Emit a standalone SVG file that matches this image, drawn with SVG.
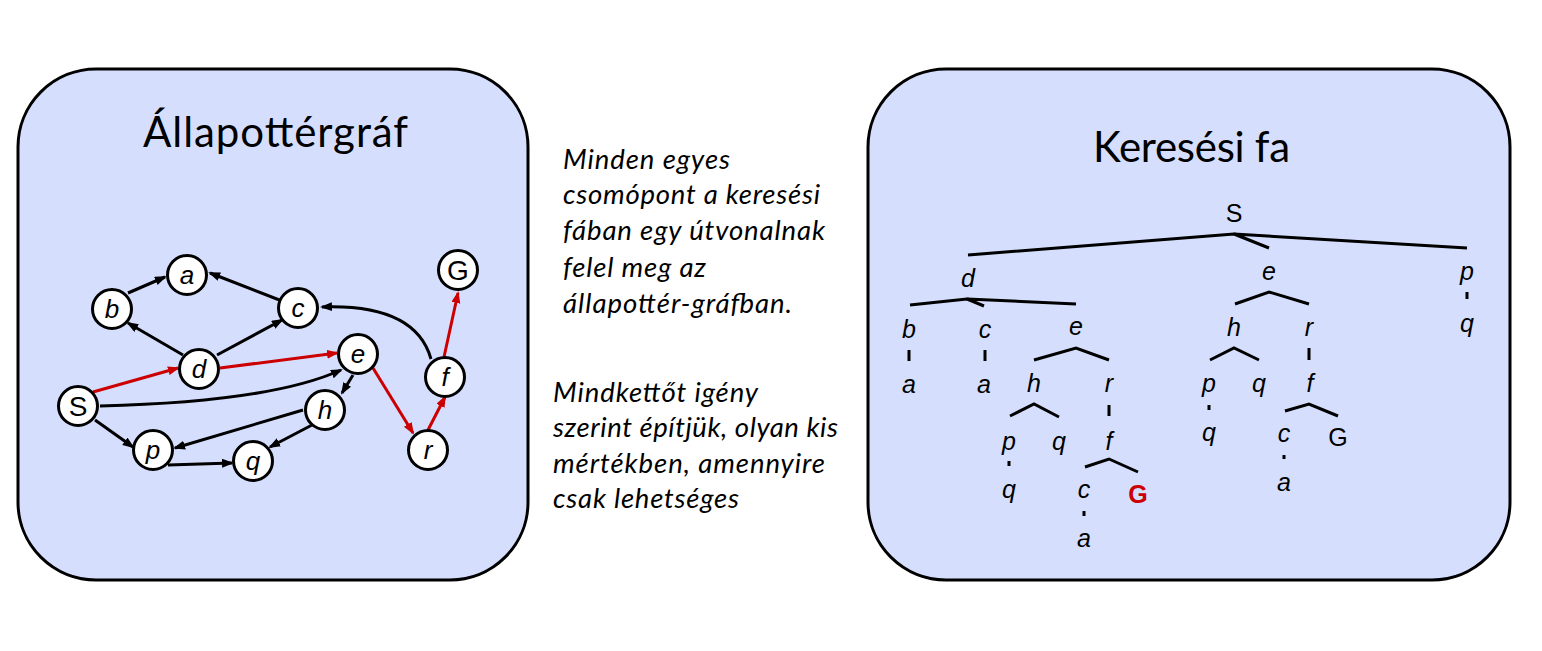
<svg xmlns="http://www.w3.org/2000/svg" width="1542" height="651" viewBox="0 0 1542 651">
<style>
.panel{fill:#d5dffd;stroke:#000;stroke-width:3}
.title{font-family:Lato,"Open Sans",sans-serif;font-size:42px;fill:#000}
.note{font-family:Lato,"Open Sans",sans-serif;font-style:italic;font-size:27.5px;fill:#000}
.node circle{fill:#fff;stroke:#000;stroke-width:3}
.nl{font-family:"Liberation Sans",Arial,sans-serif;font-size:26px;font-style:italic;text-anchor:middle;fill:#000}
.nu{font-family:"Liberation Sans",Arial,sans-serif;font-size:28px;text-anchor:middle;fill:#000}
.e{fill:none;stroke:#000;stroke-width:3}
.er{fill:none;stroke:#cc0000;stroke-width:3}
.tl{fill:none;stroke:#000;stroke-width:3}
.tt{font-family:"Liberation Sans",Arial,sans-serif;font-size:25px;font-style:italic;text-anchor:middle;fill:#000}
.tu{font-family:"Liberation Sans",Arial,sans-serif;font-size:25px;text-anchor:middle;fill:#000}
.tg{font-family:"Liberation Sans",Arial,sans-serif;font-size:25px;font-weight:bold;text-anchor:middle;fill:#cc0000}
</style>
<defs>
<marker id="ab" markerUnits="userSpaceOnUse" markerWidth="12" markerHeight="10" refX="10" refY="4.5" orient="auto"><path d="M0,0 L12,4.5 L0,9 z" fill="#000"/></marker>
<marker id="ar" markerUnits="userSpaceOnUse" markerWidth="12" markerHeight="10" refX="10" refY="4.5" orient="auto"><path d="M0,0 L12,4.5 L0,9 z" fill="#cc0000"/></marker>
</defs>

<g id="panel-left">
<rect class="panel" x="18" y="69" width="510" height="511" rx="78" ry="78"/>
<text class="title" x="143" y="147" textLength="265">Állapottérgráf</text>
</g>
<g id="panel-right">
<rect class="panel" x="868" y="69" width="642" height="511" rx="78" ry="78"/>
<text class="title" x="1093" y="162" textLength="197">Keresési fa</text>
</g>

<g id="notes">
<text class="note" x="563" y="169" textLength="167">Minden egyes</text>
<text class="note" x="563" y="204" textLength="257">csomópont a keresési</text>
<text class="note" x="563" y="240" textLength="262">fában egy útvonalnak</text>
<text class="note" x="563" y="277" textLength="143">felel meg az</text>
<text class="note" x="563" y="313" textLength="229">állapottér-gráfban.</text>
<text class="note" x="553" y="402" textLength="205">Mindkettőt igény</text>
<text class="note" x="553" y="437" textLength="285">szerint építjük, olyan kis</text>
<text class="note" x="553" y="473" textLength="272">mértékben, amennyire</text>
<text class="note" x="553" y="508" textLength="186">csak lehetséges</text>
</g>

<g id="connectors">
<path class="e" d="M128,293 L165,277" marker-end="url(#ab)"/>
<path class="e" d="M282,301 L210,273" marker-end="url(#ab)"/>
<path class="e" d="M183,355 L128,323" marker-end="url(#ab)"/>
<path class="e" d="M217,355 L282,320" marker-end="url(#ab)"/>
<path class="er" d="M93,392 L178,368" marker-end="url(#ar)"/>
<path class="er" d="M220,368 L337,353" marker-end="url(#ar)"/>
<path class="e" d="M100,406 Q270,402 341,370" marker-end="url(#ab)"/>
<path class="e" d="M353,375 L342,393" marker-end="url(#ab)"/>
<path class="e" d="M303,410 L175,448" marker-end="url(#ab)"/>
<path class="e" d="M312,425 L270,447" marker-end="url(#ab)"/>
<path class="e" d="M95,420 L133,447" marker-end="url(#ab)"/>
<path class="e" d="M168,465 L232,463" marker-end="url(#ab)"/>
<path class="er" d="M373,368 L413,433" marker-end="url(#ar)"/>
<path class="er" d="M428,430 L445,397" marker-end="url(#ar)"/>
<path class="er" d="M444,357 L458,293" marker-end="url(#ar)"/>
<path class="e" d="M431,359 C420,320 380,305 322,307" marker-end="url(#ab)"/>
</g>

<g id="node-a" class="node"><circle cx="187" cy="275" r="19.5"/><text class="nl" x="187" y="284">a</text></g>
<g id="node-b" class="node"><circle cx="112" cy="309" r="19.5"/><text class="nl" x="112" y="318">b</text></g>
<g id="node-c" class="node"><circle cx="298" cy="308" r="19.5"/><text class="nl" x="298" y="317">c</text></g>
<g id="node-G" class="node"><circle cx="458" cy="270" r="19.5"/><text class="nu" x="458" y="280">G</text></g>
<g id="node-d" class="node"><circle cx="199" cy="369" r="19.5"/><text class="nl" x="199" y="378">d</text></g>
<g id="node-e" class="node"><circle cx="358" cy="354" r="19.5"/><text class="nl" x="358" y="363">e</text></g>
<g id="node-f" class="node"><circle cx="445" cy="377" r="19.5"/><text class="nl" x="445" y="386">f</text></g>
<g id="node-S" class="node"><circle cx="78" cy="406" r="19.5"/><text class="nu" x="78" y="416">S</text></g>
<g id="node-h" class="node"><circle cx="325" cy="410" r="19.5"/><text class="nl" x="325" y="419">h</text></g>
<g id="node-p" class="node"><circle cx="153" cy="450" r="19.5"/><text class="nl" x="153" y="459">p</text></g>
<g id="node-q" class="node"><circle cx="253" cy="461" r="19.5"/><text class="nl" x="253" y="470">q</text></g>
<g id="node-r" class="node"><circle cx="428" cy="450" r="19.5"/><text class="nl" x="428" y="459">r</text></g>

<g id="tree-lines">
<path class="tl" d="M968,255 L1234,234 L1467,248 M1234,234 L1269,248"/>
<path class="tl" d="M910,305 L967,299 L1076,304 M967,299 L984,306"/>
<path class="tl" d="M1034,360 L1076,348 L1109,360"/>
<path class="tl" d="M1010,416 L1034,404 L1059,417"/>
<path class="tl" d="M1085,467 L1109,459 L1138,472"/>
<path class="tl" d="M1235,304 L1269,292 L1309,304"/>
<path class="tl" d="M1210,360 L1234,348 L1259,360"/>
<path class="tl" d="M1285,411 L1309,404 L1338,416"/>
<path class="tl" d="M909,350 V361 M985,350 V361 M1109,405 V416 M1309,348 V360 M1467,292 V299 M1209,405 V410 M1284,455 V459 M1009,461 V466 M1084,511 V516"/>
</g>

<g id="tree-S"><text class="tu" x="1234" y="222">S</text></g>
<g id="tree-d"><text class="tt" x="968" y="287">d</text></g>
<g id="tree-e1"><text class="tt" x="1269" y="280">e</text></g>
<g id="tree-p1"><text class="tt" x="1467" y="280">p</text></g>
<g id="tree-q1"><text class="tt" x="1467" y="332">q</text></g>
<g id="tree-b"><text class="tt" x="909" y="338">b</text></g>
<g id="tree-c1"><text class="tt" x="985" y="338">c</text></g>
<g id="tree-e2"><text class="tt" x="1076" y="335">e</text></g>
<g id="tree-a1"><text class="tt" x="909" y="393">a</text></g>
<g id="tree-a2"><text class="tt" x="984" y="393">a</text></g>
<g id="tree-h1"><text class="tt" x="1034" y="392">h</text></g>
<g id="tree-r1"><text class="tt" x="1109" y="392">r</text></g>
<g id="tree-p2"><text class="tt" x="1009" y="450">p</text></g>
<g id="tree-q2"><text class="tt" x="1059" y="450">q</text></g>
<g id="tree-f1"><text class="tt" x="1109" y="450">f</text></g>
<g id="tree-q3"><text class="tt" x="1009" y="498">q</text></g>
<g id="tree-c2"><text class="tt" x="1084" y="498">c</text></g>
<g id="tree-G1"><text class="tg" x="1138" y="503">G</text></g>
<g id="tree-a3"><text class="tt" x="1084" y="547">a</text></g>
<g id="tree-h2"><text class="tt" x="1234" y="336">h</text></g>
<g id="tree-r2"><text class="tt" x="1309" y="336">r</text></g>
<g id="tree-p3"><text class="tt" x="1209" y="392">p</text></g>
<g id="tree-q4"><text class="tt" x="1259" y="392">q</text></g>
<g id="tree-f2"><text class="tt" x="1310" y="392">f</text></g>
<g id="tree-q5"><text class="tt" x="1209" y="441">q</text></g>
<g id="tree-c3"><text class="tt" x="1284" y="442">c</text></g>
<g id="tree-G2"><text class="tu" x="1338" y="446">G</text></g>
<g id="tree-a4"><text class="tt" x="1284" y="491">a</text></g>
</svg>
